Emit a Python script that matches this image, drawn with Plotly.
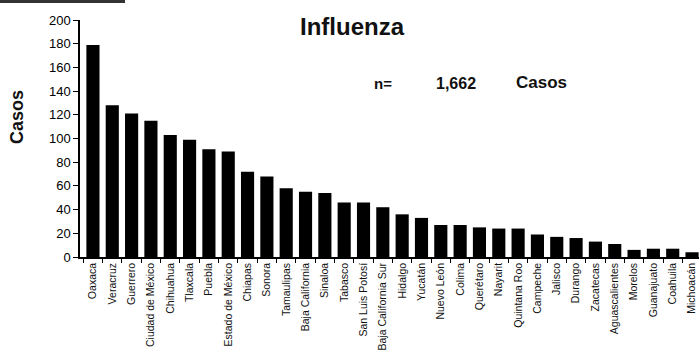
import plotly.graph_objects as go

# Influenza cases by state
estados = [
    "Oaxaca", "Veracruz", "Guerrero", "Ciudad de México", "Chihuahua",
    "Tlaxcala", "Puebla", "Estado de México", "Chiapas", "Sonora",
    "Tamaulipas", "Baja California", "Sinaloa", "Tabasco", "San Luis Potosí",
    "Baja California Sur", "Hidalgo", "Yucatán", "Nuevo León", "Colima",
    "Querétaro", "Nayarit", "Quintana Roo", "Campeche", "Jalisco",
    "Durango", "Zacatecas", "Aguascalientes", "Morelos", "Guanajuato",
    "Coahuila", "Michoacán",
]
casos = [
    179, 128, 121, 115, 103, 99, 91, 89, 72, 68,
    58, 55, 54, 46, 46, 42, 36, 33, 27, 27,
    25, 24, 24, 19, 17, 16, 13, 11, 6, 7,
    7, 4,
]
total_casos = "1,662"
y_ticks = list(range(0, 201, 20))

W, H = 699, 356
L, R, T, B = 80, 0, 20, 99
PW, PH = W - L - R, H - T - B


def px(x):
    return (x - L) / PW


def py(y):
    return (H - B - y) / PH


fig = go.Figure(
    go.Bar(
        x=estados,
        y=casos,
        marker=dict(color="#000000", line=dict(width=0)),
        width=0.68,
    )
)

bold = "Liberation Sans, Arial, sans-serif"

fig.update_layout(
    width=W,
    height=H,
    margin=dict(l=L, r=R, t=T, b=B, autoexpand=False),
    paper_bgcolor="white",
    plot_bgcolor="white",
    showlegend=False,
    font=dict(family=bold, color="#000000"),
    xaxis=dict(
        type="category",
        range=[-0.67, 31.36],
        tickangle=-90,
        tickson="boundaries",
        ticks="outside",
        ticklen=4,
        tickcolor="#000000",
        showline=True,
        linecolor="#000000",
        linewidth=1.5,
        showgrid=False,
        tickfont=dict(size=10.5, color="#111111"),
        automargin=False,
    ),
    yaxis=dict(
        range=[0, 200],
        tickvals=y_ticks,
        ticks="outside",
        ticklen=5,
        tickcolor="#000000",
        showline=True,
        linecolor="#000000",
        linewidth=1.5,
        showgrid=False,
        zeroline=False,
        tickfont=dict(size=13, color="#000000"),
        automargin=False,
    ),
    shapes=[
        dict(type="rect", xref="paper", yref="paper",
             x0=px(0), x1=px(125), y0=py(0), y1=py(3),
             fillcolor="#333333", line=dict(width=0)),
    ],
    annotations=[
        dict(text="<b>Influenza</b>", x=px(352), y=py(26), xref="paper", yref="paper",
             xanchor="center", yanchor="middle", showarrow=False,
             font=dict(size=24, family=bold, color="#111111")),
        dict(text="<b>Casos</b>", x=px(17), y=py(117), xref="paper", yref="paper",
             xanchor="center", yanchor="middle", showarrow=False, textangle=-90,
             font=dict(size=18, family=bold, color="#111111")),
        dict(text="<b>n=</b>", x=px(383), y=py(83), xref="paper", yref="paper",
             xanchor="center", yanchor="middle", showarrow=False,
             font=dict(size=15, family=bold, color="#111111")),
        dict(text=f"<b>{total_casos}</b>", x=px(456), y=py(83), xref="paper", yref="paper",
             xanchor="center", yanchor="middle", showarrow=False,
             font=dict(size=16, family=bold, color="#111111")),
        dict(text="<b>Casos</b>", x=px(541), y=py(82), xref="paper", yref="paper",
             xanchor="center", yanchor="middle", showarrow=False,
             font=dict(size=17, family=bold, color="#111111")),
    ],
)

fig.write_html("out.html")
